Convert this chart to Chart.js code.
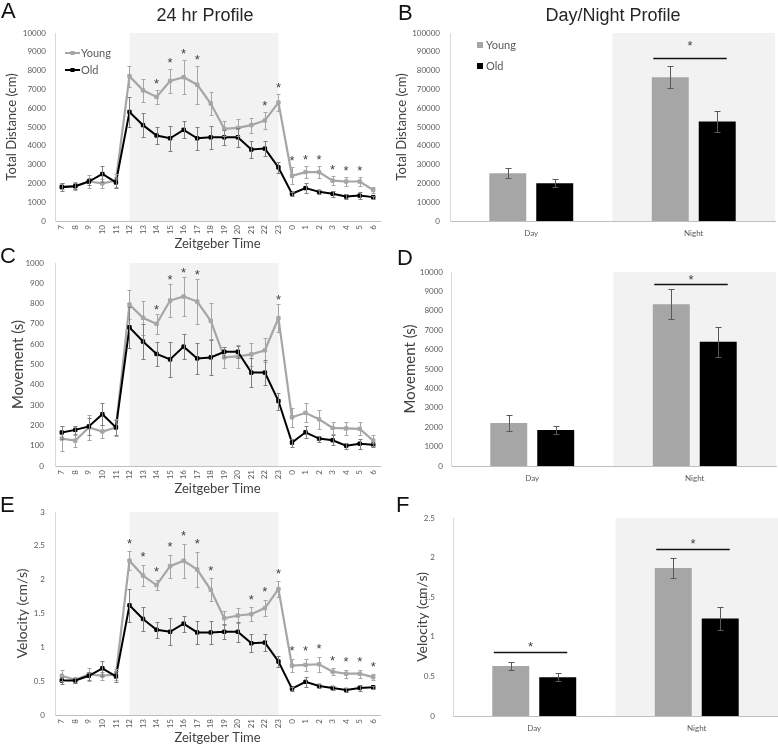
<!DOCTYPE html>
<html>
<head>
<meta charset="utf-8">
<script src="https://cdn.jsdelivr.net/npm/chart.js@4.4.1/dist/chart.umd.min.js"></script>
<style>
  body { margin: 0; background: #fff; width: 778px; height: 748px; position: relative; overflow: hidden; font-family: 'Liberation Sans', Arial, sans-serif; }
  canvas { position: absolute; }
  .lbl { position: absolute; font-size: 22px; line-height: 1; color: #111; z-index: 2; }
  .ttl { position: absolute; font-size: 18px; line-height: 1; color: #262626; transform: translateX(-50%); white-space: nowrap; z-index: 2; }
</style>
</head>
<body>
<div class="lbl" style="left:1px;top:0px">A</div>
<div class="lbl" style="left:398px;top:2px">B</div>
<div class="lbl" style="left:0px;top:245px">C</div>
<div class="lbl" style="left:397px;top:247px">D</div>
<div class="lbl" style="left:0px;top:494px">E</div>
<div class="lbl" style="left:396px;top:494px">F</div>
<div class="ttl" style="left:205px;top:6px">24 hr Profile</div>
<div class="ttl" style="left:613px;top:6px">Day/Night Profile</div>

<canvas id="chA" width="390" height="256" style="left:0;top:0"></canvas>
<canvas id="chB" width="388" height="256" style="left:390px;top:0"></canvas>
<canvas id="chC" width="390" height="262" style="left:0;top:236px"></canvas>
<canvas id="chD" width="388" height="262" style="left:390px;top:236px"></canvas>
<canvas id="chE" width="390" height="262" style="left:0;top:486px"></canvas>
<canvas id="chF" width="388" height="262" style="left:390px;top:486px"></canvas>

<script>
// Zeitgeber hours, as on the x axis
var hours = ['7','8','9','10','11','12','13','14','15','16','17','18','19','20','21','22','23','0','1','2','3','4','5','6'];
var periods = ['Day', 'Night'];

// A - total distance (cm) per hour
var distYoung    = [1850,1850,2100,2000,2150,7700,6950,6600,7450,7650,7250,6250,4900,4950,5100,5350,6300,2400,2600,2600,2150,2100,2100,1650];
var distYoungErr = [150,200,350,250,350,550,620,380,620,900,1000,600,400,450,400,450,450,450,300,330,250,250,250,180];
var distOld      = [1800,1850,2100,2500,2050,5800,5100,4550,4400,4850,4400,4450,4450,4450,3800,3850,2850,1450,1750,1550,1450,1300,1350,1270];
var distOldErr   = [200,150,200,400,300,800,650,450,650,450,600,600,400,500,450,400,300,100,250,100,150,120,200,80];
var distStars    = ['14','15','16','17','22','23','0','1','2','3','4','5'];

// C - movement (s) per hour
var moveYoung    = [135,125,190,170,190,795,730,700,815,835,810,715,535,540,550,570,728,240,262,230,188,185,183,125];
var moveYoungErr = [60,30,60,30,40,70,85,50,80,95,110,90,50,55,55,60,70,47,47,48,30,32,32,27];
var moveOld      = [165,178,195,255,190,683,613,552,525,588,530,535,563,563,460,460,320,115,166,135,127,100,110,105];
var moveOldErr   = [30,20,40,55,35,100,85,60,88,60,75,85,25,30,70,60,42,20,30,15,25,15,25,10];
var moveStars    = ['14','15','16','17','23'];

// E - velocity (cm/s) per hour
var velYoung    = [0.58,0.52,0.6,0.58,0.6,2.28,2.06,1.92,2.2,2.28,2.15,1.85,1.43,1.47,1.49,1.58,1.86,0.73,0.74,0.75,0.64,0.61,0.61,0.56];
var velYoungErr = [0.08,0.04,0.1,0.06,0.08,0.14,0.16,0.08,0.17,0.25,0.26,0.17,0.1,0.11,0.1,0.12,0.12,0.1,0.09,0.11,0.05,0.06,0.06,0.04];
var velOld      = [0.51,0.51,0.58,0.69,0.57,1.62,1.42,1.26,1.23,1.35,1.22,1.22,1.23,1.23,1.06,1.07,0.79,0.39,0.49,0.43,0.40,0.37,0.40,0.41];
var velOldErr   = [0.05,0.04,0.06,0.11,0.08,0.24,0.18,0.12,0.2,0.12,0.17,0.17,0.11,0.15,0.13,0.12,0.08,0.03,0.07,0.03,0.03,0.03,0.05,0.02];
var velStars    = ['12','13','14','15','16','17','18','21','22','23','0','1','2','3','4','5','6'];

// B, D, F - day / night totals
var distBarYoung = [25400, 76500];  var distBarYoungErr = [2700, 6000];
var distBarOld   = [20100, 52900];  var distBarOldErr   = [2100, 5700];
var moveBarYoung = [2220, 8340];    var moveBarYoungErr = [400, 780];
var moveBarOld   = [1850, 6410];    var moveBarOldErr   = [220, 780];
var velBarYoung  = [0.63, 1.87];    var velBarYoungErr  = [0.055, 0.13];
var velBarOld    = [0.49, 1.23];    var velBarOldErr    = [0.05, 0.14];

Chart.defaults.font.family = "Lato, 'Open Sans', sans-serif";
Chart.defaults.color = '#595959';

// shading, error bars, stars, significance lines and in-plot legend
var decor = {
  id: 'decor',
  beforeDatasetsDraw: function(chart, args, o) {
    var ctx = chart.ctx, a = chart.chartArea, x = chart.scales.x, labels = chart.data.labels;
    ctx.save();
    ctx.fillStyle = '#f2f2f2';
    if (o.shadeFrom) {
      var x0 = x.getPixelForValue(labels.indexOf(o.shadeFrom));
      var x1 = x.getPixelForValue(labels.indexOf(o.shadeTo));
      ctx.fillRect(x0, a.top, x1 - x0, a.bottom - a.top);
    }
    if (o.shadeCat) {
      var w = (a.right - a.left) / labels.length;
      var c = x.getPixelForValue(labels.indexOf(o.shadeCat));
      ctx.fillRect(c - w / 2, a.top, w, a.bottom - a.top);
    }
    ctx.restore();
  },
  afterDatasetsDraw: function(chart, args, o) {
    var ctx = chart.ctx, x = chart.scales.x, y = chart.scales.y, labels = chart.data.labels;
    var sets = chart.data.datasets;
    ctx.save();
    ctx.lineWidth = 1;
    sets.forEach(function(ds, i) {
      ctx.strokeStyle = ds.errColor;
      chart.getDatasetMeta(i).data.forEach(function(el, j) {
        var t = Math.round(y.getPixelForValue(ds.data[j] + ds.err[j])) + 0.5;
        var b = Math.round(y.getPixelForValue(ds.data[j] - ds.err[j])) + 0.5;
        var cx = Math.round(el.x) + 0.5;
        ctx.beginPath();
        ctx.moveTo(cx, t); ctx.lineTo(cx, b);
        ctx.moveTo(cx - o.cap, t); ctx.lineTo(cx + o.cap, t);
        ctx.moveTo(cx - o.cap, b); ctx.lineTo(cx + o.cap, b);
        ctx.stroke();
      });
    });

    ctx.fillStyle = '#404040';
    ctx.font = "13px 'Liberation Sans', Arial";
    ctx.textAlign = 'center';
    ctx.textBaseline = 'alphabetic';
    (o.stars || []).forEach(function(lab) {
      var j = labels.indexOf(lab);
      var top = Math.min.apply(null, sets.map(function(ds) { return y.getPixelForValue(ds.data[j] + ds.err[j]); }));
      ctx.fillText('*', x.getPixelForValue(j), top - o.starGap);
    });

    (o.sig || []).forEach(function(s) {
      var j = labels.indexOf(s.cat);
      var m0 = chart.getDatasetMeta(0).data[j], m1 = chart.getDatasetMeta(1).data[j];
      var yy = Math.round(y.getPixelForValue(s.at)) + 0.5;
      ctx.strokeStyle = '#111';
      ctx.lineWidth = 1.5;
      ctx.beginPath();
      ctx.moveTo(m0.x - 17, yy); ctx.lineTo(m1.x + 9.5, yy);
      ctx.stroke();
      ctx.fillText('*', (m0.x - 17 + m1.x + 9.5) / 2, yy - s.gap);
    });

    if (o.legend) {
      var L = o.legend;
      ctx.font = '11px Lato';
      ctx.textAlign = 'left';
      ctx.textBaseline = 'middle';
      sets.forEach(function(ds, i) {
        var ly = L.y + i * L.dy;
        if (L.kind === 'line') {
          ctx.strokeStyle = ds.borderColor;
          ctx.lineWidth = 2;
          ctx.beginPath(); ctx.moveTo(L.x, ly); ctx.lineTo(L.x + 15, ly); ctx.stroke();
          ctx.fillStyle = ds.borderColor;
          ctx.fillRect(L.x + 5.5, ly - 2, 4, 4);
          ctx.fillStyle = '#595959';
          ctx.fillText(ds.label, L.x + 16, ly);
        } else {
          ctx.fillStyle = ds.backgroundColor;
          ctx.fillRect(L.x, ly - 3, 6, 6);
          ctx.fillStyle = '#595959';
          ctx.fillText(ds.label, L.x + 9, ly);
        }
      });
    }
    ctx.restore();
  }
};
Chart.register(decor);

function yAxis(max, step, title, s) {
  return {
    min: 0, max: max,
    ticks: { stepSize: step, padding: s.tickPad, font: { size: 8 }, color: '#595959', callback: function(v) { return v; } },
    grid: { display: false, drawTicks: false },
    border: { color: '#d9d9d9' },
    title: { display: true, text: title, color: '#404040', font: { size: s.titleSize }, padding: { top: s.titlePad, bottom: 0 } },
    afterFit: function(sc) { sc.width = s.yW; }
  };
}

function lineChart(id, yTitle, max, step, young, youngErr, old, oldErr, stars, s) {
  new Chart(document.getElementById(id), {
    type: 'line',
    data: {
      labels: hours,
      datasets: [
        { label: 'Young', data: young, err: youngErr, errColor: '#a6a6a6', borderColor: '#a6a6a6', backgroundColor: '#a6a6a6',
          borderWidth: 2.2, pointStyle: 'rect', pointRadius: 2.4, pointBorderWidth: 1, order: 1 },
        { label: 'Old', data: old, err: oldErr, errColor: '#7f7f7f', borderColor: '#000', backgroundColor: '#000',
          borderWidth: 2, pointStyle: 'rect', pointRadius: 2.4, pointBorderWidth: 1, order: 0 }
      ]
    },
    options: {
      responsive: false, animation: false, events: [],
      layout: { padding: { top: s.top, right: s.right, left: 0, bottom: 0 } },
      plugins: {
        legend: { display: false }, tooltip: { enabled: false },
        decor: { shadeFrom: '12', shadeTo: '23', cap: 2, stars: stars, starGap: s.starGap, legend: s.legend }
      },
      scales: {
        x: {
          offset: true,
          ticks: { autoSkip: false, minRotation: 90, maxRotation: 90, padding: 4, font: { size: 8 }, color: '#595959' },
          grid: { display: false, drawTicks: false },
          border: { color: '#bfbfbf' },
          title: { display: true, text: 'Zeitgeber Time', color: '#404040', font: { size: 13 }, padding: { top: 0, bottom: s.xTitlePad } },
          afterFit: function(sc) { sc.height = s.xH; }
        },
        y: yAxis(max, step, yTitle, s)
      }
    }
  });
}

function barChart(id, yTitle, max, step, young, youngErr, old, oldErr, sig, s) {
  new Chart(document.getElementById(id), {
    type: 'bar',
    data: {
      labels: periods,
      datasets: [
        { label: 'Young', data: young, err: youngErr, errColor: '#595959', backgroundColor: '#a6a6a6' },
        { label: 'Old', data: old, err: oldErr, errColor: '#595959', backgroundColor: '#000' }
      ]
    },
    options: {
      responsive: false, animation: false, events: [],
      categoryPercentage: 0.578, barPercentage: 0.787,
      layout: { padding: { top: s.top, right: s.right, left: 0, bottom: 0 } },
      plugins: {
        legend: { display: false }, tooltip: { enabled: false },
        decor: { shadeCat: 'Night', cap: 3, sig: sig, legend: s.legend }
      },
      scales: {
        x: {
          ticks: { padding: 8, maxRotation: 0, font: { size: 8 }, color: '#595959' },
          grid: { display: false, drawTicks: false },
          border: { color: '#bfbfbf' },
          afterFit: function(sc) { sc.height = s.xH; }
        },
        y: yAxis(max, step, yTitle, s)
      }
    }
  });
}

lineChart('chA', 'Total Distance (cm)', 10000, 1000, distYoung, distYoungErr, distOld, distOldErr, distStars,
  { top: 33, right: 10, yW: 55, xH: 35, xTitlePad: 4, titleSize: 13, titlePad: 4, tickPad: 9, starGap: 2,
    legend: { kind: 'line', x: 65, y: 53, dy: 17 } });
lineChart('chC', 'Movement (s)', 1000, 100, moveYoung, moveYoungErr, moveOld, moveOldErr, moveStars,
  { top: 27, right: 10, yW: 55, xH: 32, xTitlePad: 1, titleSize: 15, titlePad: 9, tickPad: 11, starGap: 0 });
lineChart('chE', 'Velocity (cm/s)', 3, 0.5, velYoung, velYoungErr, velOld, velOldErr, velStars,
  { top: 26, right: 10, yW: 55, xH: 33, xTitlePad: 2, titleSize: 14, titlePad: 14, tickPad: 10, starGap: 3.5 });

barChart('chB', 'Total Distance (cm)', 100000, 10000, distBarYoung, distBarYoungErr, distBarOld, distBarOldErr,
  [{ cat: 'Night', at: 86700, gap: 8.5 }],
  { top: 33, right: 3, yW: 60, xH: 35, titleSize: 13, titlePad: 4, tickPad: 10,
    legend: { kind: 'box', x: 87, y: 45, dy: 21 } });
barChart('chD', 'Movement (s)', 10000, 1000, moveBarYoung, moveBarYoungErr, moveBarOld, moveBarOldErr,
  [{ cat: 'Night', at: 9380, gap: 0.5 }],
  { top: 36, right: 2, yW: 61, xH: 32, titleSize: 15, titlePad: 11, tickPad: 8 });
barChart('chF', 'Velocity (cm/s)', 2.5, 0.5, velBarYoung, velBarYoungErr, velBarOld, velBarOldErr,
  [{ cat: 'Day', at: 0.81, gap: 1.5 }, { cat: 'Night', at: 2.11, gap: 1.5 }],
  { top: 32, right: 0, yW: 63, xH: 32, titleSize: 14, titlePad: 24, tickPad: 18 });
</script>
</body>
</html>
